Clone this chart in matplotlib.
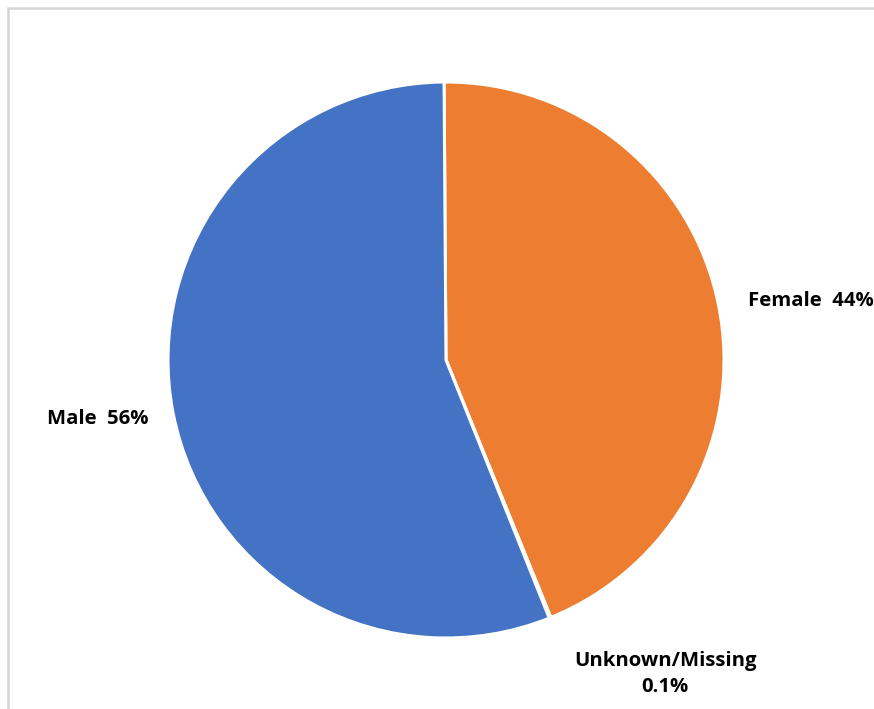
import matplotlib
matplotlib.use("Agg")
import matplotlib.pyplot as plt
from matplotlib.patches import Rectangle
import numpy as np

# Gender breakdown
categories = ["Female", "Unknown/Missing", "Male"]
shares = [44, 0.1, 56]
value_labels = ["44%", "0.1%", "56%"]
colors = ["#ED7D31", "#A5A5A5", "#4472C4"]

W, H = 874, 709
fig = plt.figure(figsize=(W / 100, H / 100), dpi=100)
fig.patch.set_facecolor("white")

# light grey chart-area border (runs off the right and bottom edges)
fig.patches.append(Rectangle((7.5 / W, -0.05), 1.2, (H - 7.5) / H + 0.05,
                             transform=fig.transFigure, fill=False,
                             edgecolor="#D6D6D6", linewidth=1.8))

ax = fig.add_axes([0, 0, 1, 1])
cx, cy, r = 446, H - 360, 278
wedges, _ = ax.pie(shares, colors=colors, startangle=90.4, counterclock=False,
                   center=(cx, cy), radius=r, frame=True,
                   wedgeprops=dict(edgecolor="white", linewidth=2.2))
ax.set_xlim(0, W)
ax.set_ylim(0, H)
ax.set_aspect("equal")
ax.axis("off")

font = dict(family=["Open Sans", "DejaVu Sans"], fontweight="bold",
            fontsize=14.6, color="black")
ax.text(811, H - 301, f"{categories[0]}  {value_labels[0]}", ha="center", va="center", **font)
ax.text(98, H - 419, f"{categories[2]}  {value_labels[2]}", ha="center", va="center", **font)
ax.text(665, H - 674, f"{categories[1]}\n{value_labels[1]}", ha="center", va="center",
        linespacing=1.35, **font)

fig.savefig("out.png", dpi=100, facecolor="white")
